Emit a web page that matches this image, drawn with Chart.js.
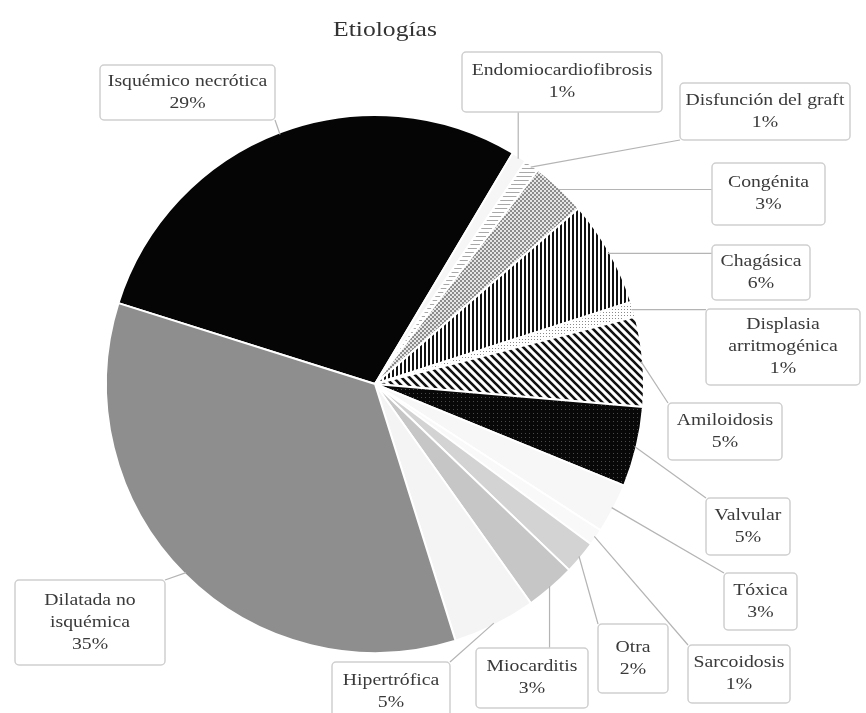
<!DOCTYPE html>
<html>
<head>
<meta charset="utf-8">
<title>Etiologías</title>
<script src="https://cdn.jsdelivr.net/npm/chart.js@4.4.1/dist/chart.umd.min.js"></script>
<style>
  html, body { margin: 0; padding: 0; background: #fff; }
  #etiologiasChart { display: block; }
</style>
</head>
<body>
<canvas id="etiologiasChart" width="866" height="713"></canvas>
<script>
// Data (percent of cases)
const categories = [
  "Isquémico necrótica", "Endomiocardiofibrosis", "Disfunción del graft", "Congénita",
  "Chagásica", "Displasia arritmogénica", "Amiloidosis", "Valvular", "Tóxica",
  "Sarcoidosis", "Otra", "Miocarditis", "Hipertrófica", "Dilatada no isquémica"
];
const percentages = [28.7, 0.9, 0.9, 3.3, 6.4, 0.9, 5.4, 4.8, 3.0, 1.0, 2.0, 3.0, 5.0, 34.7];

// Label text lines for each callout (the rounded percentage is added below)
const labelLines = [
  ["Isquémico necrótica"], ["Endomiocardiofibrosis"], ["Disfunción del graft"], ["Congénita"],
  ["Chagásica"], ["Displasia", "arritmogénica"], ["Amiloidosis"], ["Valvular"], ["Tóxica"],
  ["Sarcoidosis"], ["Otra"], ["Miocarditis"], ["Hipertrófica"], ["Dilatada no", "isquémica"]
];

// Callout boxes: left, top, width, height (layout only)
const labelBoxes = [
  [100, 65, 175, 55], [462, 52, 200, 60], [680, 83, 170, 57], [712, 163, 113, 62],
  [712, 245, 98, 55], [706, 309, 154, 76], [668, 403, 114, 57], [706, 498, 84, 57],
  [724, 573, 73, 57], [688, 645, 102, 58], [598, 624, 70, 69], [476, 648, 112, 60],
  [332, 662, 118, 60], [15, 580, 150, 85]
];

const canvas = document.getElementById("etiologiasChart");
const ctx = canvas.getContext("2d");

/**
 * Builds a repeating fill pattern from a small tile
 */
const makePattern = (size, bg, draw) => {
  const tile = document.createElement("canvas");
  tile.width = size;
  tile.height = size;
  const g = tile.getContext("2d");
  g.fillStyle = bg;
  g.fillRect(0, 0, size, size);
  draw(g, size);
  return ctx.createPattern(tile, "repeat");
};

const hLines = makePattern(4, "#ffffff", (g) => { g.fillStyle = "#a8a8a8"; g.fillRect(0, 0, 4, 1); });
const checker = makePattern(4, "#e6e6e6", (g) => {
  g.fillStyle = "#8c8c8c";
  g.fillRect(0, 0, 2, 2);
  g.fillRect(2, 2, 2, 2);
});
const vLines = makePattern(4, "#ffffff", (g) => { g.fillStyle = "#111111"; g.fillRect(0, 0, 2, 4); });
const dots = makePattern(3, "#ffffff", (g) => { g.fillStyle = "#8a8a8a"; g.fillRect(0, 0, 1, 1); });
const diag = makePattern(8, "#ffffff", (g) => {
  g.strokeStyle = "#111111";
  g.lineWidth = 2.6;
  g.beginPath();
  g.moveTo(-1, -1); g.lineTo(9, 9);
  g.moveTo(-1, 7); g.lineTo(1, 9);
  g.moveTo(7, -1); g.lineTo(9, 1);
  g.stroke();
});
const darkDots = makePattern(4, "#080808", (g) => { g.fillStyle = "#4a4a4a"; g.fillRect(1, 1, 1, 1); });

const sliceFills = [
  "#050505", "#f6f6f6", hLines, checker, vLines, dots, diag, darkDots,
  "#f7f7f7", "#f9f9f9", "#d3d3d3", "#c6c6c6", "#f4f4f4", "#8e8e8e"
];

const FONT = "'Liberation Serif', 'Times New Roman', serif";

// Text in the reference is a little wider than plain Times
const drawWideText = (c, text, x, y, stretch) => {
  c.save();
  c.translate(x, y);
  c.scale(stretch, 1);
  c.fillText(text, 0, 0);
  c.restore();
};

/**
 * Draws title, leader lines and boxed callouts
 */
const calloutPlugin = {
  id: "callouts",
  afterDraw: (chart) => {
    const c = chart.ctx;
    c.save();
    c.textAlign = "center";
    c.textBaseline = "middle";
    c.fillStyle = "#333333";
    c.font = `21px ${FONT}`;
    drawWideText(c, "Etiologías", 385, 30, 1.22);

    const arcs = chart.getDatasetMeta(0).data;
    arcs.forEach((arc, i) => {
      const p = arc.getProps(["x", "y", "startAngle", "endAngle", "outerRadius"], true);
      const mid = (p.startAngle + p.endAngle) / 2;
      const ax = p.x + Math.cos(mid) * (p.outerRadius - 2);
      const ay = p.y + Math.sin(mid) * (p.outerRadius - 2);
      const [bx, by, bw, bh] = labelBoxes[i];
      const tx = Math.min(Math.max(ax, bx), bx + bw);
      const ty = Math.min(Math.max(ay, by), by + bh);

      c.strokeStyle = "#b4b4b4";
      c.lineWidth = 1.2;
      c.beginPath();
      c.moveTo(ax, ay);
      c.lineTo(tx, ty);
      c.stroke();

      c.fillStyle = "#ffffff";
      c.strokeStyle = "#cfcfcf";
      c.lineWidth = 1.5;
      c.beginPath();
      c.roundRect(bx, by, bw, bh, 4);
      c.fill();
      c.stroke();

      const lines = [...labelLines[i], `${Math.round(percentages[i])}%`];
      const lh = 22;
      const top = by + bh / 2 - ((lines.length - 1) * lh) / 2;
      c.fillStyle = "#3a3a3a";
      c.font = `17px ${FONT}`;
      lines.forEach((t, k) => drawWideText(c, t, bx + bw / 2, top + k * lh, 1.16));
    });
    c.restore();
  },
};

new Chart(ctx, {
  type: "pie",
  data: {
    labels: categories,
    datasets: [
      {
        data: percentages,
        backgroundColor: sliceFills,
        borderColor: "#ffffff",
        borderWidth: 2,
      },
    ],
  },
  options: {
    responsive: false,
    animation: false,
    rotation: -72.5,
    layout: { padding: { top: 114, bottom: 59, left: 50, right: 166 } },
    plugins: {
      legend: { display: false },
      tooltip: { enabled: false },
      title: { display: false },
    },
  },
  plugins: [calloutPlugin],
});
</script>
</body>
</html>
